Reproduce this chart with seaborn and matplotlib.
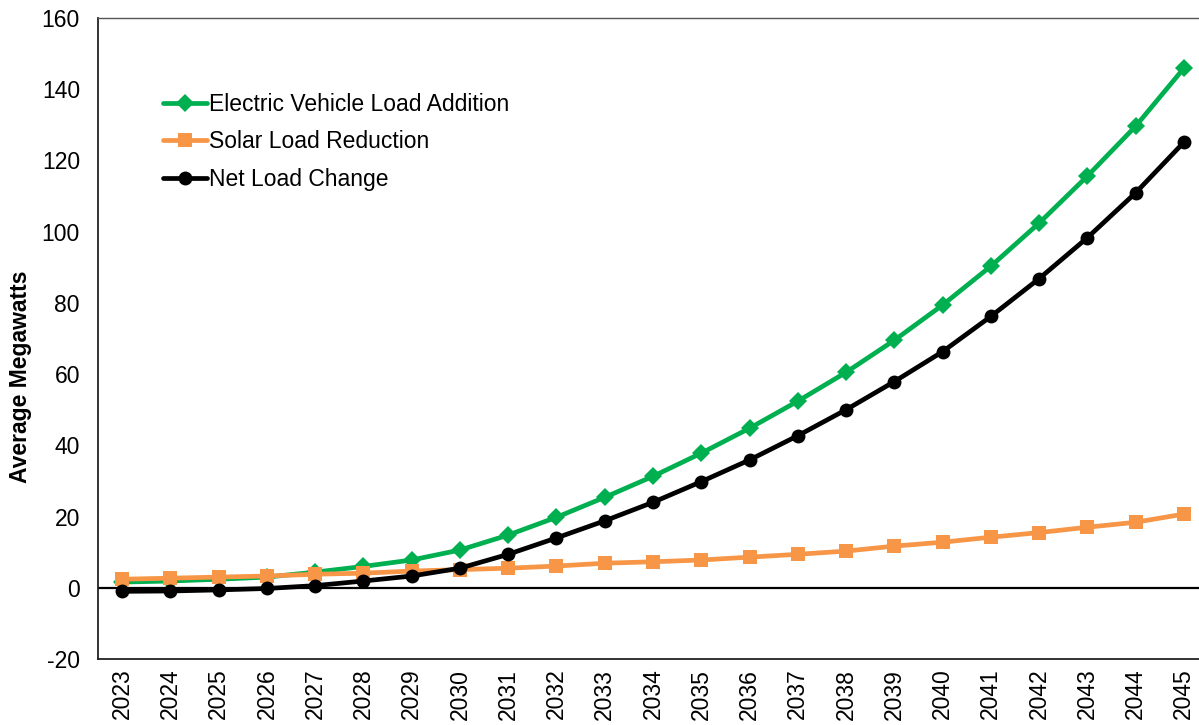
import seaborn as sns
import pandas as pd
import numpy as np
import matplotlib.pyplot as plt

# valores (MW promedio)
years = [str(y) for y in range(2023, 2046)]
ev_load = [1.6, 1.9, 2.4, 3.0, 4.4, 6.0, 7.8, 10.6, 14.8, 19.8, 25.4, 31.3,
           37.8, 44.8, 52.4, 60.5, 69.5, 79.4, 90.3, 102.4, 115.6, 129.6, 145.9]
solar_load = [2.4, 2.7, 3.0, 3.3, 3.8, 4.1, 4.7, 5.1, 5.5, 6.1, 6.9, 7.3,
              7.8, 8.6, 9.4, 10.3, 11.7, 12.8, 14.2, 15.5, 17.0, 18.4, 20.7]
net_load = [-1.0, -0.9, -0.6, -0.2, 0.6, 1.9, 3.3, 5.5, 9.4, 14.0, 18.8, 24.0,
            29.8, 35.9, 42.7, 50.0, 57.9, 66.3, 76.2, 86.8, 98.3, 110.9, 125.1]

series = [
    ('Electric Vehicle Load Addition', ev_load, '#00B050', 'D', 9),
    ('Solar Load Reduction', solar_load, '#F79646', 's', 10),
    ('Net Load Change', net_load, '#000000', 'o', 10),
]

sns.set_style('white')
plt.rcParams['font.family'] = ['Liberation Sans', 'DejaVu Sans']
plt.rcParams['axes.unicode_minus'] = False
plt.rcParams['text.color'] = 'black'
plt.rcParams['xtick.color'] = 'black'
plt.rcParams['ytick.color'] = 'black'
plt.rcParams['axes.labelcolor'] = 'black'

fig = plt.figure(figsize=(11.99, 7.25), dpi=100)
ax = fig.add_axes([98 / 1199, 66 / 725, 1110 / 1199, 641 / 725])

x = np.arange(len(years))
for name, vals, color, marker, ms in series:
    df = pd.DataFrame({'x': x, 'MW': vals})
    sns.lineplot(data=df, x='x', y='MW', color=color, marker=marker,
                 markersize=ms, markeredgewidth=0, linewidth=3.4,
                 label=name, ax=ax)

ax.axhline(0, color='black', linewidth=1.6, zorder=1)

ax.set_xlim(-0.5, len(years) - 0.5)
ax.set_ylim(-20, 160)
ax.set_yticks(range(-20, 161, 20))
ax.set_xticks(x)
ax.set_xticklabels(years, rotation=90)
ax.tick_params(axis='both', labelsize=16.5, length=0)
ax.tick_params(axis='x', pad=7)
ax.tick_params(axis='y', pad=13)
ax.set_xlabel('')
ax.set_ylabel('Average Megawatts', fontsize=16.5, fontweight='bold')
ax.yaxis.set_label_coords(-0.0595, 0.44)

for s in ['left', 'bottom']:
    ax.spines[s].set_color('#222222')
    ax.spines[s].set_linewidth(1.3)
ax.spines['top'].set_color('#555555')
ax.spines['top'].set_linewidth(1.0)
ax.spines['right'].set_visible(False)

leg = ax.legend(loc='upper left', bbox_to_anchor=(0.04, 0.915), frameon=False,
                fontsize=16.5, handlelength=1.9, handletextpad=0.1,
                labelspacing=0.62)

fig.savefig('out.png', dpi=100)
